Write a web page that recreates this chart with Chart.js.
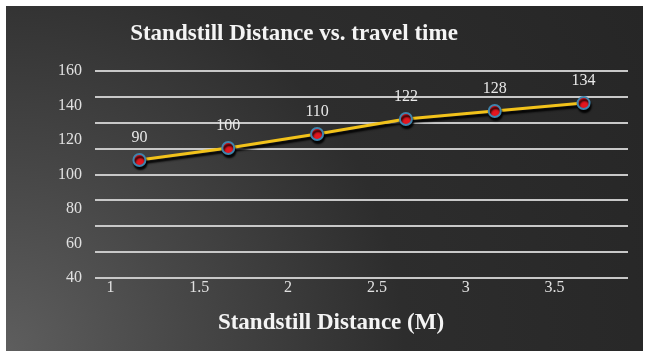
<!DOCTYPE html>
<html>
<head>
<meta charset="utf-8">
<script src="https://cdn.jsdelivr.net/npm/chart.js@4.4.1/dist/chart.umd.min.js"></script>
<style>
  html, body { margin: 0; background: #fff; }
  #marco {
    position: absolute; left: 6px; top: 6px; width: 637px; height: 345px;
    background: radial-gradient(circle at 0% 100%, #5e5e5e 0%, #474747 25%, #2d2d2d 55%, #262626 100%);
  }
</style>
</head>
<body>
<div id="marco"><canvas id="grafico" width="637" height="345"></canvas></div>
<script>
// Datos (las etiquetas de los puntos no coinciden con su altura en el original)
const categorias = ['1', '1.5', '2', '2.5', '3', '3.5'];
const valores = [108.4, 115.4, 123.5, 132.2, 136.8, 141.4];
const etiquetasPuntos = ['90', '100', '110', '122', '128', '134'];
const tituloGrafico = 'Standstill Distance vs. travel time';
const tituloEjeX = 'Standstill Distance (M)';
const yMin = 40, yMax = 160;

const serif = "'Liberation Serif', 'DejaVu Serif', serif";

// sombra negra bajo la línea amarilla
const sombra = {
  id: 'sombra',
  beforeDatasetsDraw(chart) {
    const ctx = chart.ctx;
    ctx.save();
    ctx.shadowColor = 'rgba(0,0,0,0.95)';
    ctx.shadowOffsetY = 3;
    ctx.shadowOffsetX = 1;
    ctx.shadowBlur = 2;
  },
  afterDatasetsDraw(chart) {
    chart.ctx.restore();
  }
};

// etiquetas encima de cada punto
const etiquetas = {
  id: 'etiquetas',
  afterDatasetsDraw(chart) {
    const ctx = chart.ctx;
    const meta = chart.getDatasetMeta(0);
    ctx.save();
    ctx.fillStyle = '#e8e8e8';
    ctx.font = '16px ' + serif;
    ctx.textAlign = 'center';
    ctx.textBaseline = 'middle';
    meta.data.forEach((p, i) => {
      ctx.fillText(etiquetasPuntos[i], p.x, p.y - 22);
    });
    ctx.restore();
  }
};

// títulos (en el original no están centrados sobre el área del gráfico)
const titulos = {
  id: 'titulos',
  afterDraw(chart) {
    const ctx = chart.ctx;
    const area = chart.chartArea;
    ctx.save();
    ctx.fillStyle = '#f4f4f4';
    ctx.textAlign = 'center';
    ctx.textBaseline = 'middle';
    ctx.font = 'bold 23px ' + serif;
    ctx.fillText(tituloGrafico, area.left + 199, 28);
    ctx.fillText(tituloEjeX, area.left + 236, 317);
    ctx.restore();
  }
};

new Chart(document.getElementById('grafico'), {
  type: 'line',
  data: {
    labels: categorias,
    datasets: [{
      data: valores,
      borderColor: '#f2c21a',
      borderWidth: 3,
      tension: 0,
      fill: false,
      pointRadius: 6,
      pointBorderWidth: 2,
      pointBackgroundColor: '#e3161f',
      pointBorderColor: '#3f84ad'
    }]
  },
  options: {
    responsive: false,
    animation: false,
    layout: { padding: { top: 65, right: 15, left: 0, bottom: 0 } },
    plugins: {
      legend: { display: false },
      tooltip: { enabled: false },
      title: { display: false }
    },
    scales: {
      x: {
        type: 'category',
        offset: true,
        grid: { display: false, drawTicks: false },
        border: { display: false },
        ticks: { color: '#e0e0e0', font: { family: serif, size: 16 }, labelOffset: -29, padding: 0, maxRotation: 0 },
        afterFit(s) { s.height = 73; }
      },
      yl: {
        position: 'left',
        min: yMin, max: yMax,
        grid: { display: false, drawTicks: false },
        border: { display: false },
        ticks: { stepSize: 20, color: '#e0e0e0', font: { family: serif, size: 16 }, padding: 13 },
        afterFit(s) { s.width = 89; }
      },
      y: {
        position: 'left',
        min: yMin, max: yMax,
        grid: { color: '#c8c8c8', lineWidth: 2, drawTicks: false },
        border: { display: false },
        ticks: { display: false, stepSize: 15 },
        afterFit(s) { s.width = 0; }
      }
    }
  },
  plugins: [sombra, etiquetas, titulos]
});
</script>
</body>
</html>
